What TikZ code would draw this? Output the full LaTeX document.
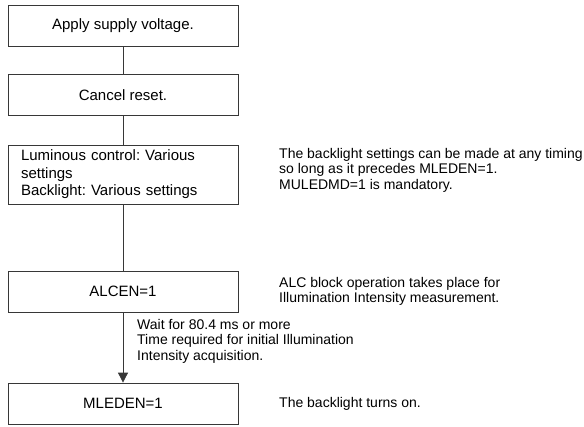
\documentclass[tikz,border=0pt]{standalone}
\usepackage{fontspec}
\setmainfont{Liberation Sans}
\usetikzlibrary{arrows.meta}
\definecolor{flowline}{RGB}{55,55,55}
\frenchspacing

\begin{document}
\begin{tikzpicture}[x=1pt, y=-1pt,
      stepbox/.style={draw=flowline, line width=0.8pt, minimum width=230pt, minimum height=41pt, inner sep=0pt, font=\fontsize{15}{17.5}\selectfont},
      note/.style={anchor=north west, align=left, inner sep=0pt, font=\fontsize{14}{15.5}\selectfont},
      link/.style={draw=flowline, line width=0.8pt}
    ]
      \useasboundingbox (0,0) rectangle (584,426);

      % Steps
      \node[stepbox] (supply) at (123,25.5) {Apply supply voltage.};
      \node[stepbox] (reset) at (123,95) {Cancel reset.};
      \node[stepbox, minimum height=59pt, text width=204pt, align=left] (settings) at (123,174.5) {Luminous control: Various\\settings\\Backlight: Various settings};
      \node[stepbox] (alcen) at (123,291.5) {ALCEN=1};
      \node[stepbox] (mleden) at (123,403.5) {MLEDEN=1};

      % Connectors
      \draw[link] (supply) -- (reset);
      \draw[link] (reset) -- (settings);
      \draw[link] (settings) -- (alcen);
      \draw[link, -{Triangle[length=10pt, width=10pt]}] (alcen) -- (mleden);

      % Notes
      \node[note] (settingsnote) at (279,148) {The backlight settings can be made at any timing\\so long as it precedes MLEDEN=1.\\MULEDMD=1 is mandatory.};
      \node[note, anchor=west] (alcnote) at (279,291.5) {ALC block operation takes place for\\Illumination Intensity measurement.};
      \node[note] (waitnote) at (137,319) {Wait for 80.4 ms or more\\Time required for initial Illumination\\Intensity acquisition.};
      \node[note, anchor=west] (onnote) at (279,403.5) {The backlight turns on.};
    \end{tikzpicture}
\end{document}
